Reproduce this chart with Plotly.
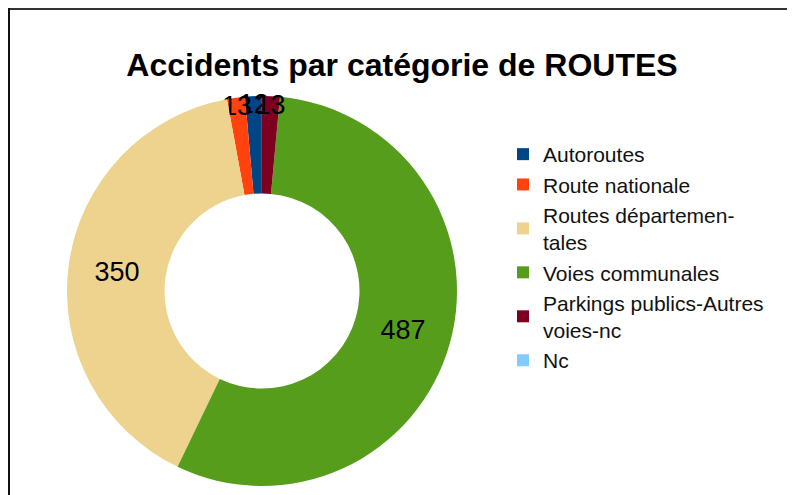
import plotly.graph_objects as go

categories = [
    "Autoroutes",
    "Route nationale",
    "Routes départemen-<br>tales",
    "Voies communales",
    "Parkings publics-Autres<br>voies-nc",
    "Nc",
]
accidents = [12, 13, 350, 487, 13, 0]
colors = ["#004586", "#ff420e", "#eed38e", "#579d1c", "#7e0021", "#83caff"]

W, H = 795, 495
font = "Liberation Sans, Arial, sans-serif"

fig = go.Figure()

fig.add_trace(go.Pie(
    labels=categories,
    values=accidents,
    marker=dict(colors=colors, line=dict(width=0)),
    hole=0.5,
    sort=False,
    direction='counterclockwise',
    rotation=-5,
    texttemplate=['%{value}' if v > 0 else '' for v in accidents],
    textposition='inside',
    insidetextorientation='horizontal',
    textfont=dict(family=font, size=27, color='black'),
    hovertemplate='%{label}: %{value}<extra></extra>',
    domain=dict(x=[59 / W, 449 / W],
                y=[1 - 478 / H, 1 - 88 / H]),
))

fig.update_layout(
    width=W,
    height=H,
    margin=dict(l=0, r=0, t=0, b=0),
    paper_bgcolor='white',
    plot_bgcolor='white',
    title=dict(
        text='<b>Accidents par catégorie de ROUTES</b>',
        font=dict(family=font, size=32, color='black'),
        x=394 / W, xanchor='center',
        y=1 - 57 / H, yanchor='middle',
    ),
    uniformtext=dict(minsize=27, mode='show'),
    legend=dict(
        x=495 / W, xanchor='left',
        y=1 - 126 / H, yanchor='top',
        font=dict(family=font, size=21, color='#111111'),
        bgcolor='rgba(0,0,0,0)',
        itemclick=False,
    ),
    shapes=[
        dict(type='line', xref='paper', yref='paper',
             x0=1 / W, x1=1, y0=1 - 1 / H, y1=1 - 1 / H,
             line=dict(color='#333333', width=2)),
        dict(type='line', xref='paper', yref='paper',
             x0=1 / W, x1=1 / W, y0=0, y1=1,
             line=dict(color='#111111', width=2)),
    ],
)

fig.write_html("out.html")
